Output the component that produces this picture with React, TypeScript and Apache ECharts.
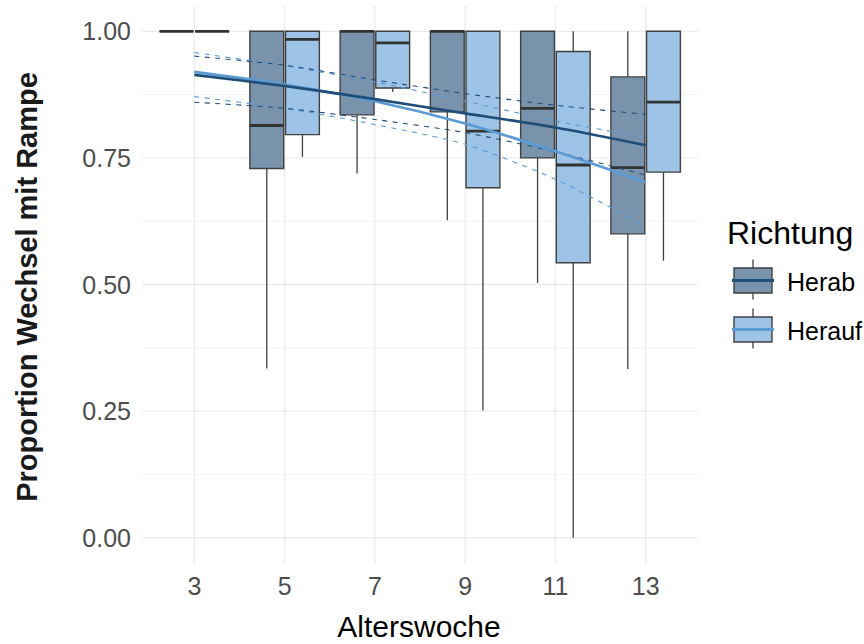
import React, { useEffect, useRef } from "react";
import * as echarts from "echarts";

// ---------------- data ----------------
const weeks = [3, 5, 7, 9, 11, 13];
const groups = ["Herab", "Herauf"];

// Boxplot statistics (Herab)
const herabMin = [1, 0.334, 0.719, 0.627, 0.503, 0.333];
const herabQ1 = [1, 0.729, 0.835, 0.841, 0.75, 0.6];
const herabMed = [1, 0.814, 1, 1, 0.848, 0.731];
const herabQ3 = [1, 1, 1, 1, 1, 0.91];
const herabMax = [1, 1, 1, 1, 1, 1];

// Boxplot statistics (Herauf)
const heraufMin = [1, 0.752, 0.88, 0.251, 0, 0.547];
const heraufQ1 = [1, 0.796, 0.888, 0.691, 0.543, 0.722];
const heraufMed = [1, 0.984, 0.977, 0.803, 0.736, 0.86];
const heraufQ3 = [1, 1, 1, 1, 0.96, 1];
const heraufMax = [1, 1, 1, 1, 1, 1];

// Fitted trend with confidence band
const herabFit = [0.914, 0.892, 0.866, 0.838, 0.81, 0.775];
const herabUpper = [0.951, 0.933, 0.904, 0.877, 0.854, 0.836];
const herabLower = [0.86, 0.848, 0.826, 0.8, 0.762, 0.716];
const heraufFit = [0.92, 0.895, 0.862, 0.818, 0.763, 0.702];
const heraufUpper = [0.958, 0.932, 0.9, 0.862, 0.823, 0.79];
const heraufLower = [0.871, 0.848, 0.816, 0.777, 0.708, 0.615];

// axis ticks
const xTicks = [3, 5, 7, 9, 11, 13];
const yTicks = [0, 0.25, 0.5, 0.75, 1];
const yMinorTicks = [0.125, 0.375, 0.625, 0.875];

const xTitle = "Alterswoche";
const yTitle = "Proportion Wechsel mit Rampe";
const legendTitle = "Richtung";

// ---------------- styles ----------------
const FONT = "'Liberation Sans', Arial, Helvetica, sans-serif";
const FILLS = ["#7A93AD", "#9DC3E6"];
const LINE_COLORS = ["#1F4E79", "#5B9BD5"];
const OFFSETS = [-0.395, 0.395];
const BOX_W = 0.75;
const OUTLINE = "#404040";

const X_MIN = 1.84;
const X_MAX = 14.16;
const Y_MIN = -0.05;
const Y_MAX = 1.05;

function boxRenderer(offset: number, fill: string) {
  return (params: any, api: any) => {
    const x = api.value(0) + offset;
    const pMin = api.coord([x, api.value(1)]);
    const cx = pMin[0];
    const yMin = pMin[1];
    const yQ1 = api.coord([x, api.value(2)])[1];
    const yMed = api.coord([x, api.value(3)])[1];
    const yQ3 = api.coord([x, api.value(4)])[1];
    const yMax = api.coord([x, api.value(5)])[1];
    const w = api.size([BOX_W, 0])[0];
    return {
      type: "group",
      children: [
        {
          type: "line",
          shape: { x1: cx, y1: yQ3, x2: cx, y2: yMax },
          style: { stroke: OUTLINE, lineWidth: 1.3 },
        },
        {
          type: "line",
          shape: { x1: cx, y1: yQ1, x2: cx, y2: yMin },
          style: { stroke: OUTLINE, lineWidth: 1.3 },
        },
        {
          type: "rect",
          shape: { x: cx - w / 2, y: yQ3, width: w, height: yQ1 - yQ3 },
          style: { fill, stroke: OUTLINE, lineWidth: 1.4 },
        },
        {
          type: "line",
          shape: { x1: cx - w / 2, y1: yMed, x2: cx + w / 2, y2: yMed },
          style: { stroke: "#333333", lineWidth: 2.8 },
        },
      ],
    };
  };
}

function gridRenderer(params: any, api: any) {
  const v = api.value(0);
  const kind = api.value(1);
  const cs = params.coordSys;
  if (kind === 2) {
    const x = api.coord([v, 0])[0];
    return {
      type: "line",
      shape: { x1: x, y1: cs.y, x2: x, y2: cs.y + cs.height },
      style: { stroke: "#EBEBEB", lineWidth: 1.3 },
      silent: true,
    };
  }
  const y = api.coord([3, v])[1];
  return {
    type: "line",
    shape: { x1: cs.x, y1: y, x2: cs.x + cs.width, y2: y },
    style: { stroke: kind === 0 ? "#EBEBEB" : "#F2F2F2", lineWidth: kind === 0 ? 1.3 : 1 },
    silent: true,
  };
}

function legendItem(i: number, cy: number) {
  const left = 734;
  const w = 38;
  const h = 25;
  const cx = left + w / 2;
  return [
    {
      type: "line",
      shape: { x1: cx, y1: cy - 21, x2: cx, y2: cy + 19 },
      style: { stroke: OUTLINE, lineWidth: 1.3 },
    },
    {
      type: "rect",
      shape: { x: left, y: cy - h / 2, width: w, height: h },
      style: { fill: FILLS[i], stroke: OUTLINE, lineWidth: 1.4 },
    },
    {
      type: "line",
      shape: { x1: left - 2, y1: cy, x2: left + w + 2, y2: cy },
      style: { stroke: LINE_COLORS[i], lineWidth: 2.8 },
    },
    {
      type: "text",
      x: 787,
      y: cy + 1,
      style: {
        text: groups[i],
        fontSize: 25,
        fontFamily: FONT,
        fill: "#000000",
        align: "left",
        verticalAlign: "middle",
        textAlign: "left",
        textVerticalAlign: "middle",
      },
    },
  ];
}

export default function App() {
  const ref = useRef<HTMLDivElement>(null);

  useEffect(() => {
    if (!ref.current) return;
    const chart = echarts.init(ref.current, null, { renderer: "svg" });

    const gridData: number[][] = [
      ...yTicks.map((v) => [v, 0]),
      ...yMinorTicks.map((v) => [v, 1]),
      ...xTicks.map((v) => [v, 2]),
    ];

    const herabBoxes = weeks.map((w, i) => [w, herabMin[i], herabQ1[i], herabMed[i], herabQ3[i], herabMax[i]]);
    const heraufBoxes = weeks.map((w, i) => [w, heraufMin[i], heraufQ1[i], heraufMed[i], heraufQ3[i], heraufMax[i]]);

    const pairs = (arr: number[]) => weeks.map((w, i) => [w, arr[i]]);

    const lineSeries = (data: number[][], color: string, dashed: boolean, z: number) => ({
      type: "line",
      data,
      symbol: "none",
      smooth: 0.25,
      silent: true,
      z,
      lineStyle: {
        color,
        width: dashed ? 1.1 : 2.7,
        type: dashed ? [5, 5.5] : "solid",
      },
    });

    const option: any = {
      animation: false,
      backgroundColor: "#ffffff",
      grid: { left: 142, right: 166, top: 6, bottom: 81, containLabel: false },
      xAxis: {
        type: "value",
        min: X_MIN,
        max: X_MAX,
        axisLine: { show: false },
        axisTick: { show: false, customValues: xTicks },
        splitLine: { show: false },
        axisLabel: {
          customValues: xTicks,
          fontSize: 25,
          fontFamily: FONT,
          color: "#4D4D4D",
          margin: 10,
          formatter: (v: number) => String(v),
        },
      },
      yAxis: {
        type: "value",
        min: Y_MIN,
        max: Y_MAX,
        axisLine: { show: false },
        axisTick: { show: false, customValues: yTicks },
        splitLine: { show: false },
        axisLabel: {
          customValues: yTicks,
          fontSize: 25,
          fontFamily: FONT,
          color: "#4D4D4D",
          margin: 11,
          formatter: (v: number) => v.toFixed(2),
        },
      },
      series: [
        {
          type: "custom",
          renderItem: gridRenderer,
          data: gridData,
          silent: true,
          z: 0,
        },
        {
          type: "custom",
          name: groups[0],
          renderItem: boxRenderer(OFFSETS[0], FILLS[0]),
          data: herabBoxes,
          encode: { x: 0, y: [1, 2, 3, 4, 5] },
          silent: true,
          z: 1,
        },
        {
          type: "custom",
          name: groups[1],
          renderItem: boxRenderer(OFFSETS[1], FILLS[1]),
          data: heraufBoxes,
          encode: { x: 0, y: [1, 2, 3, 4, 5] },
          silent: true,
          z: 1,
        },
        lineSeries(pairs(heraufUpper), LINE_COLORS[1], true, 3),
        lineSeries(pairs(heraufLower), LINE_COLORS[1], true, 3),
        lineSeries(pairs(herabUpper), LINE_COLORS[0], true, 3),
        lineSeries(pairs(herabLower), LINE_COLORS[0], true, 3),
        lineSeries(pairs(heraufFit), LINE_COLORS[1], false, 4),
        lineSeries(pairs(herabFit), LINE_COLORS[0], false, 4),
      ],
      graphic: [
        {
          type: "text",
          x: 27,
          y: 287,
          rotation: Math.PI / 2,
          style: {
            text: yTitle,
            fontSize: 29,
            fontWeight: "bold",
            fontFamily: FONT,
            fill: "#1A1A1A",
            align: "center",
            verticalAlign: "middle",
            textAlign: "center",
            textVerticalAlign: "middle",
          },
        },
        {
          type: "text",
          x: 419,
          y: 626,
          style: {
            text: xTitle,
            fontSize: 30,
            fontFamily: FONT,
            fill: "#000000",
            align: "center",
            verticalAlign: "middle",
            textAlign: "center",
            textVerticalAlign: "middle",
          },
        },
        {
          type: "text",
          x: 727,
          y: 233,
          style: {
            text: legendTitle,
            fontSize: 32,
            fontFamily: FONT,
            fill: "#000000",
            align: "left",
            verticalAlign: "middle",
            textAlign: "left",
            textVerticalAlign: "middle",
          },
        },
        ...legendItem(0, 280.5),
        ...legendItem(1, 329.5),
      ],
    };

    chart.setOption(option);
    return () => chart.dispose();
  }, []);

  return (
    <div
      ref={ref}
      style={{ position: "fixed", left: 0, top: 0, width: 864, height: 644, background: "#fff" }}
    />
  );
}
